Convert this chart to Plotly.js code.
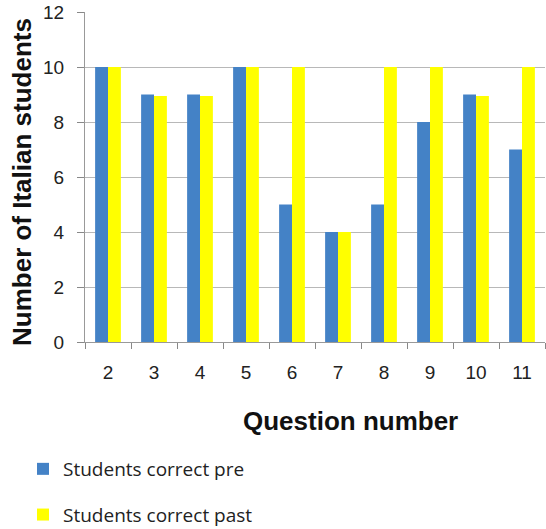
<!DOCTYPE html>
<html>
<head>
<meta charset="utf-8">
<script src="https://cdn.plot.ly/plotly-3.0.1.min.js"></script>
<style>html,body{margin:0;padding:0;background:#fff;}#chart{width:546px;height:529px;}</style>
</head>
<body>
<div id="chart"></div>
<script>
var questions = ['2', '3', '4', '5', '6', '7', '8', '9', '10', '11'];
var correctPre = [10, 9, 9, 10, 5, 4, 5, 8, 9, 7];
var correctPast = [10, 8.95, 8.95, 10, 10, 4, 10, 10, 8.95, 10];
var yTicks = [0, 2, 4, 6, 8, 10, 12];

var traces = [
  {type: 'bar', name: 'Students correct pre', x: questions, y: correctPre,
   marker: {color: '#4482c6'}, legendgroup: 'a', hoverinfo: 'x+y'},
  {type: 'bar', name: 'Students correct past', x: questions, y: correctPast,
   marker: {color: '#ffff00'}, legendgroup: 'b', hoverinfo: 'x+y'}
];

var layout = {
  width: 546, height: 529,
  margin: {l: 85, r: 1, t: 11.5, b: 186.5, autoexpand: false},
  paper_bgcolor: '#fff', plot_bgcolor: '#fff',
  barmode: 'group', bargap: 0.44, bargroupgap: 0,
  font: {family: '"Liberation Sans", Arial, sans-serif', color: '#222'},
  xaxis: {
    type: 'category', tickson: 'boundaries', ticks: 'outside', ticklen: 6,
    tickcolor: '#888', showline: true, linecolor: '#999', linewidth: 1,
    showgrid: false, tickfont: {size: 19, color: '#222'}, ticklabelstandoff: 13
  },
  yaxis: {
    range: [0, 12], tickvals: yTicks, ticks: 'outside', ticklen: 7, tickcolor: '#888',
    showline: true, linecolor: '#999', linewidth: 1, gridcolor: '#b8b8b8', gridwidth: 1,
    zeroline: false, tickfont: {size: 19, color: '#222'}, ticklabelstandoff: 9
  },
  showlegend: true,
  legend: {
    xref: 'container', yref: 'container',
    x: 23 / 546, xanchor: 'left', y: 1 - 450 / 529, yanchor: 'top', orientation: 'v',
    traceorder: 'grouped', tracegroupgap: 18,
    font: {family: '"Open Sans", sans-serif', size: 19, color: '#222'}, bgcolor: 'rgba(0,0,0,0)'
  },
  annotations: [
    {text: '<b>Question number</b>', xref: 'paper', yref: 'paper',
     x: (350 - 85) / 460, y: (342.5 - 422) / 331, xanchor: 'center', yanchor: 'middle',
     showarrow: false, font: {size: 26, color: '#111', family: '"Liberation Sans", Arial, sans-serif'}},
    {text: '<b>Number of Italian students</b>', xref: 'paper', yref: 'paper',
     x: (22 - 85) / 460, y: (342.5 - 182) / 331, xanchor: 'center', yanchor: 'middle',
     textangle: -90, showarrow: false,
     font: {size: 26, color: '#111', family: '"Liberation Sans", Arial, sans-serif'}}
  ]
};

Plotly.newPlot('chart', traces, layout, {displayModeBar: false, staticPlot: true});
</script>
</body>
</html>
